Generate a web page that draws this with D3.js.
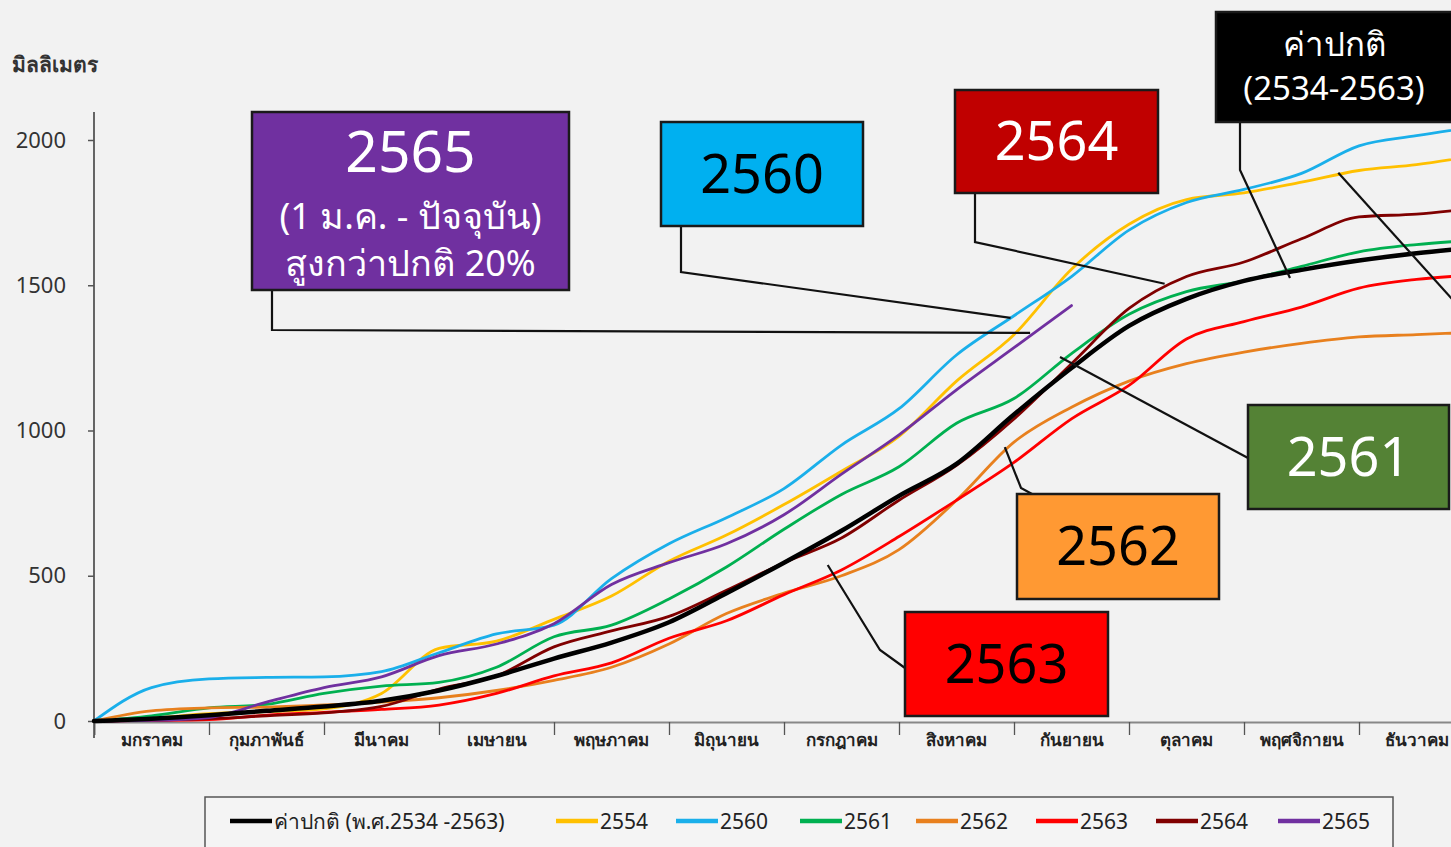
<!DOCTYPE html>
<html><head><meta charset="utf-8">
<script src="https://cdn.jsdelivr.net/npm/d3@7"></script>
<style>
html,body{margin:0;padding:0;background:#f2f2f2;}
svg{display:block;font-family:"Noto Sans","Open Sans",sans-serif;}
</style></head>
<body>
<svg id="chart" width="1451" height="847"></svg>
<script>
// ---- data ----
const months = ["มกราคม","กุมภาพันธ์","มีนาคม","เมษายน","พฤษภาคม","มิถุนายน","กรกฎาคม","สิงหาคม","กันยายน","ตุลาคม","พฤศจิกายน","ธันวาคม"];
const monthTicks = [0,1,2,3,4,5,6,7,8,9,10,11,12];
// sample positions in months since 1 Jan (half-month steps)
const t = [0,0.5,1,1.5,2,2.5,3,3.5,4,4.5,5,5.5,6,6.5,7,7.5,8,8.5,9,9.5,10,10.5,11,11.5,12];
const yTicks = [0,500,1000,1500,2000];

const normal = [0,8,20,35,50,70,105,155,215,270,340,440,545,655,775,885,1055,1215,1360,1453,1515,1553,1585,1610,1630];
const y2554  = [0,10,25,32,42,95,250,275,350,430,550,640,745,860,980,1170,1330,1555,1710,1795,1818,1855,1895,1915,1945];
const y2560  = [0,115,145,150,152,170,235,300,330,490,610,700,800,950,1075,1260,1395,1530,1690,1785,1830,1885,1980,2015,2045];
const y2561  = [0,18,45,57,95,120,133,185,290,330,420,530,660,780,875,1025,1110,1265,1400,1478,1515,1565,1615,1640,1655];
const y2562  = [0,35,45,48,55,65,80,105,140,185,265,370,440,500,590,760,960,1080,1170,1230,1270,1300,1322,1330,1338];
const y2563  = [0,2,5,20,30,40,55,95,155,200,285,345,435,520,635,760,890,1040,1155,1315,1375,1425,1490,1520,1535];
const y2564  = [0,3,8,18,28,50,110,155,255,310,360,450,545,630,760,880,1040,1230,1420,1530,1580,1660,1735,1745,1765];
const y2565  = [0,2,12,65,115,152,225,265,335,470,545,610,710,850,985,1140,1285,1430];

const seriesNames  = ["ค่าปกติ (พ.ศ.2534 -2563)","2554","2560","2561","2562","2563","2564","2565"];
const seriesValues = [normal,y2554,y2560,y2561,y2562,y2563,y2564,y2565];
const seriesColors = ["#000000","#FFC000","#1AAFEA","#00B050","#E8801E","#FF0000","#800000","#7030A0"];
const seriesWidths = [4.5,2.8,2.8,2.8,2.8,2.8,2.8,2.8];

// ---- layout ----
const svg = d3.select("#chart");
const x = d3.scaleLinear().domain([0,12]).range([94,1474]);
const y = d3.scaleLinear().domain([0,2000]).range([721,140]);

svg.append("rect").attr("width",1451).attr("height",847).attr("fill","#f2f2f2");

// unit label
svg.append("text").attr("x",12).attr("y",72).attr("font-size",21).attr("font-weight",600).attr("fill","#333")
  .text("มิลลิเมตร");

// y axis
const yAxis = svg.append("g").attr("transform","translate(94,0)")
  .call(d3.axisLeft(y).tickValues(yTicks).tickSize(6).tickPadding(22).tickFormat(d3.format("d")));
yAxis.select(".domain").remove();
yAxis.selectAll(".tick line").attr("stroke","#555").attr("stroke-width",1.5);
yAxis.selectAll(".tick text").attr("font-size",22).attr("fill","#333").attr("font-family","Noto Sans, sans-serif");
svg.append("line").attr("x1",94).attr("x2",94).attr("y1",112).attr("y2",738)
  .attr("stroke","#555").attr("stroke-width",1.8);

// x axis
const xAxis = svg.append("g").attr("transform","translate(0,722)")
  .call(d3.axisBottom(x).tickValues(monthTicks).tickSize(13).tickFormat(""));
xAxis.select(".domain").attr("stroke","#888").attr("stroke-width",2);
xAxis.selectAll(".tick line").attr("stroke","#555").attr("stroke-width",1.3);
svg.append("g").selectAll("text").data(months).join("text")
  .attr("x",(d,i)=>x(i+0.5)).attr("y",746).attr("text-anchor","middle")
  .attr("font-size",17).attr("font-weight","bold").attr("fill","#222").text(d=>d);

// lines
const line = d3.line().x(d=>x(d[0])).y(d=>y(d[1])).curve(d3.curveMonotoneX);
const order = [1,2,3,4,5,6,7,0];
svg.append("g").selectAll("path").data(order).join("path")
  .attr("d",i=>line(seriesValues[i].map((v,j)=>[t[j],v])))
  .attr("fill","none").attr("stroke",i=>seriesColors[i]).attr("stroke-width",i=>seriesWidths[i])
  .attr("stroke-linejoin","round").attr("stroke-linecap","round");

// ---- annotation boxes ----
const boxes = [
  {x:252,y:112,w:317,h:178,fill:"#7030A0",color:"#fff",lines:[["2565",57,172],["(1 ม.ค. - ปัจจุบัน)",36,229],["สูงกว่าปกติ 20%",36,276]],
   leader:[[272,290],[272,330]], end:[8.14,1336]},
  {x:661,y:122,w:202,h:104,fill:"#00B0F0",color:"#000",lines:[["2560",54,193]],
   leader:[[681,226],[681,272]], end:[7.97,1388]},
  {x:955,y:90,w:203,h:103,fill:"#C00000",color:"#fff",lines:[["2564",54,160]],
   leader:[[975,193],[975,242]], end:[9.31,1505]},
  {x:1216,y:12,w:236,h:110,fill:"#000000",color:"#fff",lines:[["ค่าปกติ",33,56],["(2534-2563)",33,100]],
   leader:[[1240,122],[1240,170]], end:[10.4,1525]},
  {x:1248,y:405,w:201,h:104,fill:"#548235",color:"#fff",lines:[["2561",54,476]],
   leader:[[1248,458]], end:[8.4,1253]},
  {x:1017,y:494,w:202,h:105,fill:"#FF9933",color:"#000",lines:[["2562",54,565]],
   leader:[[1032,494],[1021,488]], end:[7.92,943]},
  {x:905,y:612,w:203,h:104,fill:"#FF0000",color:"#000",lines:[["2563",54,683]],
   leader:[[905,668],[880,650]], end:[6.38,537]}
];
const ann = svg.append("g");
boxes.forEach(b=>{
  const pts = b.leader.concat([[x(b.end[0]),y(b.end[1])]]);
  ann.append("path").attr("d",d3.line()(pts)).attr("fill","none").attr("stroke","#111").attr("stroke-width",2.2);
});
// leader toward 2554 label outside the visible area
ann.append("path").attr("d",d3.line()([[x(10.82),y(1887)],[1480,330]]))
  .attr("fill","none").attr("stroke","#111").attr("stroke-width",2.2);
boxes.forEach(b=>{
  ann.append("rect").attr("x",b.x).attr("y",b.y).attr("width",b.w).attr("height",b.h)
    .attr("fill",b.fill).attr("stroke","#1a1a1a").attr("stroke-width",2.5);
  b.lines.forEach(l=>{
    ann.append("text").attr("x",b.x+b.w/2).attr("y",l[2]).attr("text-anchor","middle")
      .attr("font-size",l[1]).attr("fill",b.color).text(l[0]);
  });
});

// ---- legend ----
svg.append("rect").attr("x",205).attr("y",797).attr("width",1188).attr("height",52)
  .attr("fill","#f4f4f4").attr("stroke","#555").attr("stroke-width",1.5);
const legX = [230,556,676,800,916,1036,1156,1278];
const leg = svg.append("g").selectAll("g").data(seriesNames).join("g")
  .attr("transform",(d,i)=>`translate(${legX[i]},821)`);
leg.append("line").attr("x1",0).attr("x2",42).attr("y1",0).attr("y2",0)
  .attr("stroke",(d,i)=>seriesColors[i]).attr("stroke-width",4.5);
leg.append("text").attr("x",44).attr("y",8).attr("font-size",21).attr("fill","#222").text(d=>d);
</script>
</body></html>
